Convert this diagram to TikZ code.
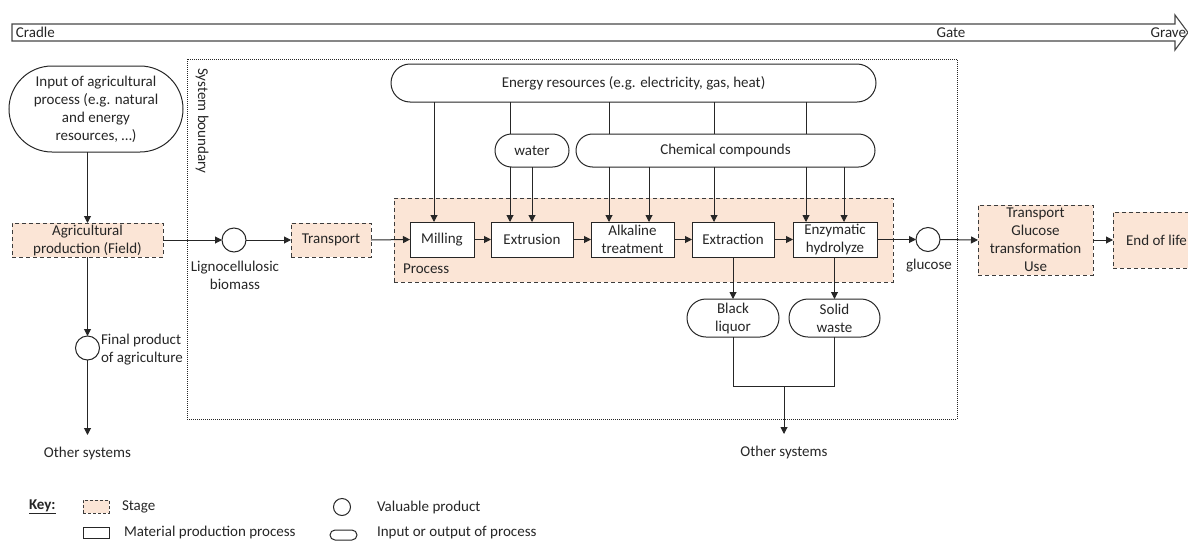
\documentclass[tikz,border=0pt]{standalone}
\usepackage{fontspec}
\setmainfont{Carlito}
\usetikzlibrary{arrows.meta,calc}
\definecolor{peach}{HTML}{FBE5D6}
\definecolor{ink}{HTML}{262626}
\begin{document}
\begin{tikzpicture}[x=1pt,y=-1pt,
  every node/.style={font=\fontsize{15}{18}\selectfont, text=ink, inner sep=0pt, outer sep=0pt},
  ln/.style={draw=ink, line width=1pt},
  arr/.style={ln, -{Triangle[length=7pt,width=7pt]}},
  stagebox/.style={draw=ink!90, line width=1pt, dash pattern=on 4pt off 3pt, fill=peach, align=center},
  procbox/.style={draw=ink, line width=1pt, fill=white, align=center},
  iobox/.style={draw=ink, line width=1pt, fill=white, align=center},
  prodcirc/.style={circle, draw=ink, line width=1pt, fill=white, minimum size=24pt},
]
\useasboundingbox (0,0) rectangle (1188,541);
\clip (0,0) rectangle (1188,541);

% top life-cycle arrow
\draw[draw=ink!85, line width=1.1pt, fill=white] (12,24) -- (1175,24) -- (1175,15) -- (1188,32.5) -- (1175,50) -- (1175,41) -- (12,41) -- cycle;
\node[anchor=west] (cradle) at (16,32.5) {Cradle};
\node (gate) at (951,32.5) {Gate};
\node[anchor=east] (grave) at (1186,32.5) {Grave};

% system boundary
\draw[ink, line width=0.8pt, dash pattern=on 1pt off 1pt] (187,59) rectangle (957,419);
\node[rotate=-90] (sb) at (202,121) {System boundary};

% left column
\node[iobox, rounded corners=43pt, minimum width=174pt, minimum height=86pt] (inp) at (96,109) {Input of agricultural\\process (e.g. natural\\and energy\\resources, …)};
\node[stagebox, minimum width=151pt, minimum height=34pt] (agri) at (87.5,240) {Agricultural\\production (Field)};
\node[prodcirc] (fin) at (87.5,348) {};
\node[anchor=west, align=left] (finlbl) at (101,350) {Final product\\of agriculture};
\coordinate (os1e) at (87.5,435);
\node (os1) at (87.5,453) {Other systems};

% main chain
\node[prodcirc] (lig) at (234,240) {};
\node[align=center] (liglbl) at (235,275) {Lignocellulosic\\biomass};
\node[stagebox, minimum width=80pt, minimum height=34pt] (trans) at (331,240) {Transport};

\node[stagebox, minimum width=499pt, minimum height=84pt] (proc) at (643.5,240) {};
\node[anchor=west] (proclbl) at (403,269) {Process};

\node[procbox, minimum width=64pt, minimum height=35pt] (mill) at (442,239.5) {Milling};
\node[procbox, minimum width=82pt, minimum height=35pt] (extr) at (532,239.5) {Extrusion};
\node[procbox, minimum width=83pt, minimum height=35pt] (alk) at (632.5,239.5) {Alkaline\\treatment};
\node[procbox, minimum width=82pt, minimum height=35pt] (extc) at (733,239.5) {Extraction};
\node[procbox, minimum width=84pt, minimum height=35pt] (enz) at (835,239.5) {Enzymatic\\hydrolyze};

\node[prodcirc] (gluc) at (928,239.5) {};
\node (gluclbl) at (929,266) {glucose};
\node[stagebox, minimum width=115pt, minimum height=70pt] (tgu) at (1035.5,240) {Transport\\Glucose\\transformation\\Use};
\node[stagebox, minimum width=87pt, minimum height=56pt] (eol) at (1156.5,240) {End of life};

% inputs
\node[iobox, rounded corners=19pt, minimum width=485pt, minimum height=38pt] (energy) at (633.5,83) {Energy resources (e.g. electricity, gas, heat)};
\node[iobox, rounded corners=16.5pt, minimum width=74pt, minimum height=33pt] (water) at (532,150.5) {water};
\node[iobox, rounded corners=16.5pt, minimum width=299pt, minimum height=33pt] (chem) at (725.5,150.5) {Chemical compounds};

% outputs
\node[iobox, rounded corners=19pt, minimum width=92pt, minimum height=38pt] (black) at (733,318) {Black\\liquor};
\node[iobox, rounded corners=19pt, minimum width=91pt, minimum height=38pt] (solid) at (834.5,318) {Solid\\waste};
\coordinate (jn) at (784,386);
\coordinate (os2e) at (784,434);
\node (os2) at (784,452) {Other systems};

% connectors: left
\draw[arr] (agri.north |- inp.south) -- (agri.north);
\draw[arr] (agri.south) -- (fin.north);
\draw[arr] (fin.south) -- (os1e);

% connectors: chain
\draw[arr] (agri.east) -- (lig.west);
\draw[arr] (lig.east) -- (trans.west);
\draw[arr] (trans.east) -- (mill.west);
\draw[arr] (mill.east) -- (extr.west);
\draw[arr] (extr.east) -- (alk.west);
\draw[arr] (alk.east) -- (extc.west);
\draw[arr] (extc.east) -- (enz.west);
\draw[arr] (enz.east) -- (gluc.west);
\draw[arr] (gluc.east) -- (tgu.west);
\draw[arr] (tgu.east) -- (eol.west);

% connectors: energy / water / chemicals
\coordinate (m1) at ([xshift=-8pt]mill.north);
\coordinate (x1) at ([xshift=-22pt]extr.north);
\coordinate (x2) at (extr.north);
\coordinate (a1) at ([xshift=-23.5pt]alk.north);
\coordinate (a2) at ([xshift=16.5pt]alk.north);
\coordinate (c1) at ([xshift=-19pt]extc.north);
\coordinate (z1) at ([xshift=-29pt]enz.north);
\coordinate (z2) at ([xshift=9pt]enz.north);

\draw[arr] (m1 |- energy.south) -- (m1);
\draw[ln] (x1 |- energy.south) -- (x1 |- water.north);
\draw[arr] (x1 |- water.south) -- (x1);
\draw[arr] (x2 |- water.south) -- (x2);
\draw[ln] (a1 |- energy.south) -- (a1 |- chem.north);
\draw[arr] (a1 |- chem.south) -- (a1);
\draw[arr] (a2 |- chem.south) -- (a2);
\draw[ln] (c1 |- energy.south) -- (c1 |- chem.north);
\draw[arr] (c1 |- chem.south) -- (c1);
\draw[ln] (z1 |- energy.south) -- (z1 |- chem.north);
\draw[arr] (z1 |- chem.south) -- (z1);
\draw[arr] (z2 |- chem.south) -- (z2);

% outputs
\draw[arr] (extc.south) -- (black.north);
\draw[arr] (solid.north |- enz.south) -- (solid.north);
\draw[ln] (black.south) -- (black.south |- jn) -- (solid.south |- jn) -- (solid.south);
\draw[arr] (jn) -- (os2e);

% key
\node[anchor=west] (key) at (29,507) {\textbf{\underline{Key:}}};
\node[stagebox, dash pattern=on 3pt off 2pt, minimum width=26pt, minimum height=13pt] (kst) at (96,506.5) {};
\node[anchor=west] (kstl) at (122,507) {Stage};
\node[procbox, minimum width=26pt, minimum height=11pt] (kpr) at (96,532.5) {};
\node[anchor=west] (kprl) at (124,532) {Material production process};
\node[prodcirc, minimum size=17pt] (kvp) at (342,507) {};
\node[iobox, rounded corners=5pt, minimum width=27pt, minimum height=10pt] (kio) at (343.5,535) {};
\node[anchor=west] (kvpl) at (377,507) {Valuable product};
\node[anchor=west] (kiol) at (377,533) {Input or output of process};
\end{tikzpicture}
\end{document}
